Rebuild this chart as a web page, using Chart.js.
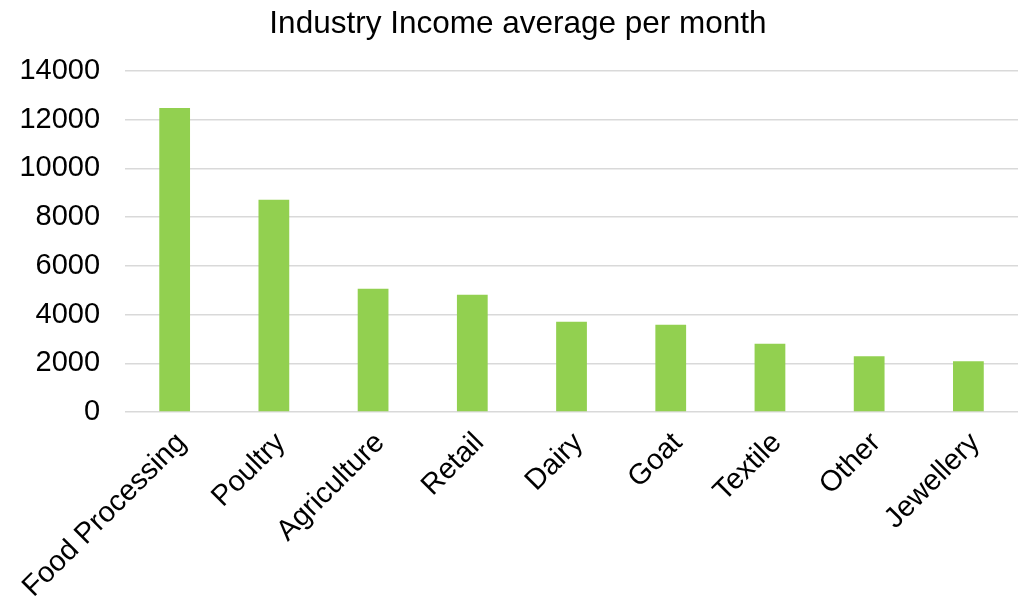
<!DOCTYPE html>
<html>
<head>
<meta charset="utf-8">
<script src="https://cdn.jsdelivr.net/npm/chart.js@4"></script>
<style>
  body { margin: 0; background: #fff; }
</style>
</head>
<body>
<canvas id="grafico" width="1020" height="601"></canvas>
<script>
const categorias = ['Food Processing', 'Poultry', 'Agriculture', 'Retail', 'Dairy',
    'Goat', 'Textile', 'Other', 'Jewellery'];
const renda = [12470, 8710, 5060, 4810, 3700, 3580, 2800, 2290, 2080];
const ticksY = [0, 2000, 4000, 6000, 8000, 10000, 12000, 14000];

const ctx = document.getElementById('grafico');
const myChart = new Chart(ctx, {
    type: 'bar',
    data: {
        labels: categorias,
        datasets: [{
            label: 'Income',
            data: renda,
            backgroundColor: '#92d050',
            borderWidth: 0,
            barPercentage: 0.31,
            categoryPercentage: 1
        }]
    },
    options: {
        responsive: false,
        animation: false,
        layout: {
            padding: { left: 18, right: 2, top: 0, bottom: 0 }
        },
        scales: {
            y: {
                min: 0,
                max: 14000,
                afterBuildTicks: (scale) => {
                    scale.ticks = ticksY.map(v => ({ value: v }));
                },
                afterFit: (scale) => { scale.width = 104; },
                border: { display: false },
                grid: {
                    color: '#d9d9d9',
                    lineWidth: 1.5,
                    drawTicks: false
                },
                ticks: {
                    color: '#000',
                    padding: 25,
                    callback: (v) => String(v),
                    font: { size: 29, family: 'Liberation Sans' }
                }
            },
            x: {
                afterFit: (scale) => { scale.height = 189; },
                border: { display: false },
                grid: { display: false, drawTicks: false },
                ticks: {
                    color: '#000',
                    maxRotation: 45,
                    minRotation: 45,
                    autoSkip: false,
                    padding: 14,
                    labelOffset: 7,
                    font: { size: 29, family: 'Liberation Sans' }
                }
            }
        },
        plugins: {
            legend: { display: false },
            tooltip: { enabled: false },
            title: {
                display: true,
                text: 'Industry Income average per month',
                color: '#000',
                padding: { top: 5, bottom: 28 },
                font: { size: 31.5, family: 'Liberation Sans', weight: 'normal' }
            }
        }
    }
});
</script>
</body>
</html>
